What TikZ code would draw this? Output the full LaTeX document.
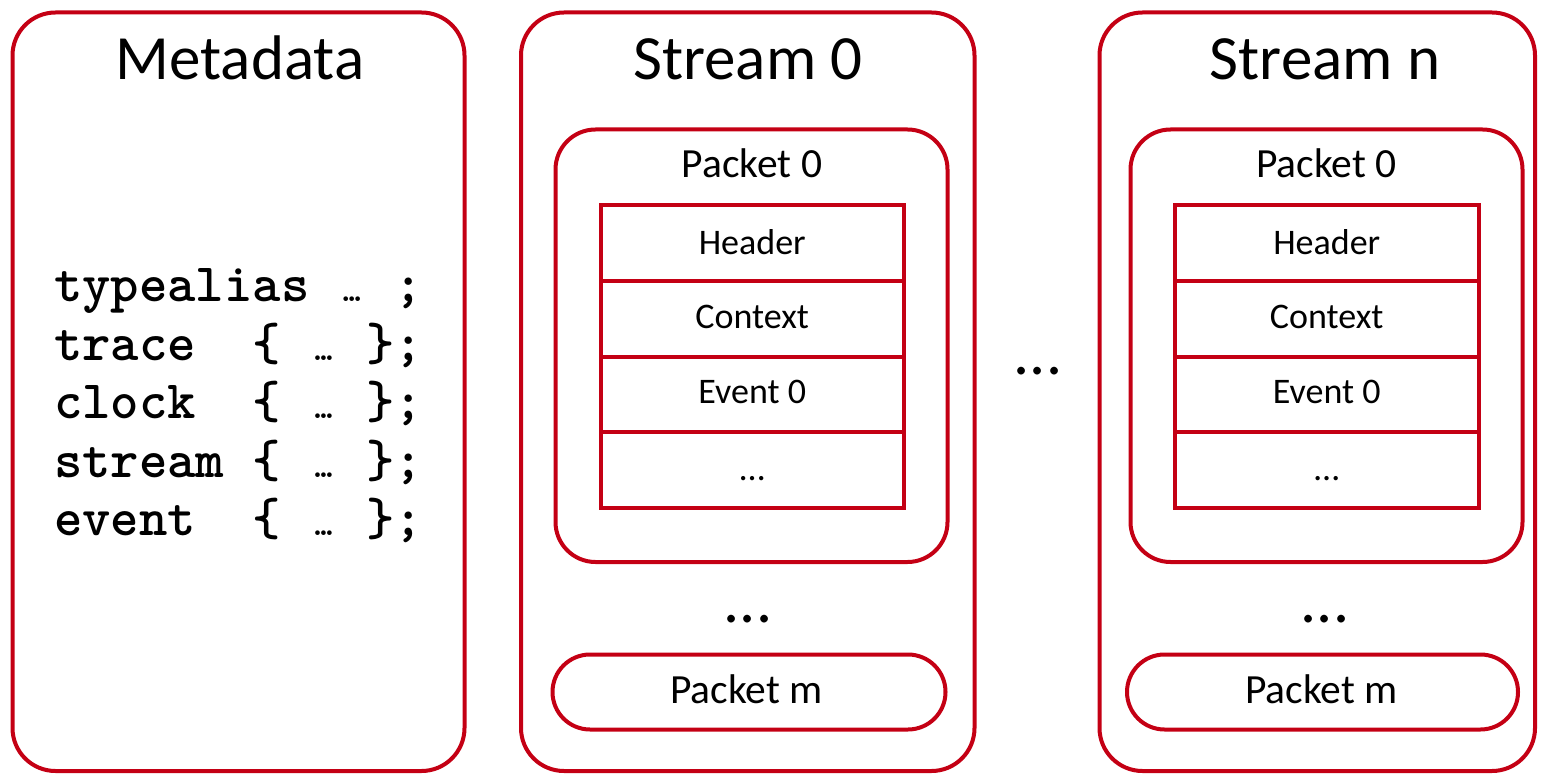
\documentclass[tikz,border=0pt]{standalone}
\usepackage{fontspec}
\setmainfont{Carlito}
\definecolor{boxred}{RGB}{196,0,20}
\newcommand\codeell{\makebox[0.525em]{\fontsize{34}{34}\selectfont …}}
\begin{document}
\begin{tikzpicture}[x=1pt,y=-1pt,
  box/.style={draw=boxred, line width=4pt, rounded corners=43pt, inner sep=0pt, anchor=center},
  pbox/.style={box, rounded corners=40pt},
  mbox/.style={box, rounded corners=37.5pt, minimum height=75pt},
  cell/.style={draw=boxred, line width=4pt, inner sep=0pt, anchor=center, minimum height=75.5pt},
  title/.style={anchor=base, inner sep=0pt, font=\fontsize{63}{70}\selectfont},
  ptext/.style={anchor=base, inner sep=0pt, font=\fontsize{41.5}{48}\selectfont},
  ctext/.style={anchor=base, inner sep=0pt, font=\fontsize{36}{42}\selectfont},
  dots/.style={anchor=base, inner sep=0pt, font=\fontsize{64}{70}\selectfont},
  code/.style={anchor=base west, inner sep=0pt, font=\ttfamily\bfseries\fontsize{54}{60}\selectfont}]
\useasboundingbox (0,0) rectangle (1541,775);

% outer boxes
\node[box, minimum width=452pt, minimum height=758.5pt] (meta) at (238.5,391.75) {};
\node[box, minimum width=453.5pt, minimum height=758.5pt] (s0) at (747.75,391.75) {};
\node[box, minimum width=435.5pt, minimum height=758.5pt] (sn) at (1317.25,391.75) {};

% titles
\node[title] (tmeta) at (240,80) {Metadata};
\node[title] (ts0) at (748,80) {Stream 0};
\node[title] (tsn) at (1325,80) {Stream n};

% metadata code
\node[code] (m1) at (54,302) {typealias~\codeell~;};
\node[code] (m2) at (54,360) {trace~~\{~\codeell~\};};
\node[code] (m3) at (54,418) {clock~~\{~\codeell~\};};
\node[code] (m4) at (54,477) {stream~\{~\codeell~\};};
\node[code] (m5) at (54,535) {event~~\{~\codeell~\};};

% stream 0 packet 0
\node[pbox, minimum width=392pt, minimum height=432.5pt] (p0a) at (751.5,345.75) {};
\node[ptext] (p0at) at (752,178) {Packet 0};
\node[cell, minimum width=303.5pt] (ha) at (752.25,243.25) {};
\node[cell, minimum width=303.5pt] (ca) at (752.25,318.75) {};
\node[cell, minimum width=303.5pt] (ea) at (752.25,394.25) {};
\node[cell, minimum width=303.5pt] (xa) at (752.25,469.75) {};
\node[ctext] (hat) at (752.25,255) {Header};
\node[ctext] (cat) at (752.25,329) {Context};
\node[ctext] (eat) at (752.25,403) {Event 0};
\node[ctext] (xat) at (752.25,480) {…};
\node[dots] (da) at (748,622) {...};
\node[mbox, minimum width=393pt] (pma) at (749,692) {};
\node[ptext] (pmat) at (746.5,703) {Packet m};

% middle dots
\node[dots] (dmid) at (1038,374) {...};

% stream n packet 0
\node[pbox, minimum width=392pt, minimum height=432.5pt] (p0b) at (1326.5,345.75) {};
\node[ptext] (p0bt) at (1326.5,178) {Packet 0};
\node[cell, minimum width=303.5pt] (hb) at (1326.75,243.25) {};
\node[cell, minimum width=303.5pt] (cb) at (1326.75,318.75) {};
\node[cell, minimum width=303.5pt] (eb) at (1326.75,394.25) {};
\node[cell, minimum width=303.5pt] (xb) at (1326.75,469.75) {};
\node[ctext] (hbt) at (1326.75,255) {Header};
\node[ctext] (cbt) at (1326.75,329) {Context};
\node[ctext] (ebt) at (1326.75,403) {Event 0};
\node[ctext] (xbt) at (1326.75,480) {…};
\node[dots] (db) at (1325,622) {...};
\node[mbox, minimum width=391pt] (pmb) at (1322.5,692) {};
\node[ptext] (pmbt) at (1321.5,703) {Packet m};
\end{tikzpicture}
\end{document}
